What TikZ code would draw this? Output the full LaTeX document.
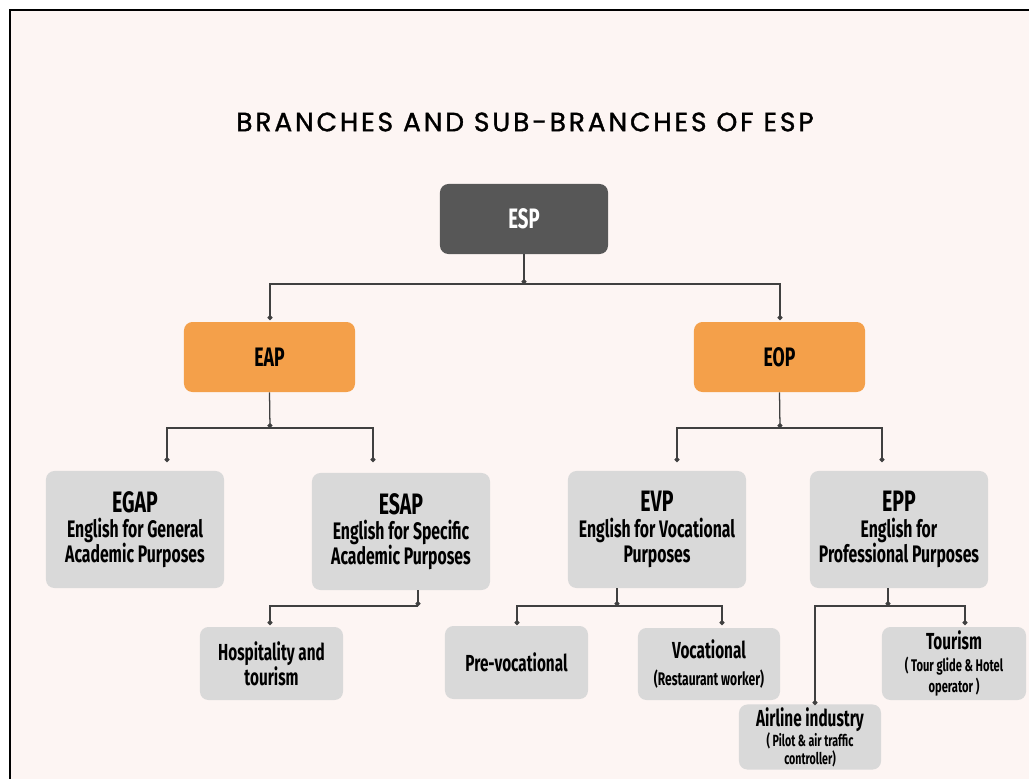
\documentclass[tikz,border=0pt]{standalone}
\usepackage{fontspec}
\usetikzlibrary{arrows.meta,positioning}
\newfontfamily\titlefont[LetterSpace=11,FakeBold=1.3]{Poppins}
\newfontfamily\boxfont[FakeStretch=0.66]{Fira Sans}
\definecolor{pagebg}{HTML}{FDF5F3}
\definecolor{espgray}{HTML}{575757}
\definecolor{eorange}{HTML}{F4A04A}
\definecolor{lgray}{HTML}{D9D9D9}
\tikzset{
  orgbox/.style={rounded corners=6pt,align=center,inner sep=2pt,font=\boxfont\bfseries\fontsize{17}{18}\selectfont},
  wire/.style={draw=black!75,line width=0.9pt,-{Circle[length=3.5pt]}}
}

\begin{document}
\begin{tikzpicture}[x=0.025cm,y=-0.025cm]
\useasboundingbox (0,0) rectangle (1029,778);
\clip (0,0) rectangle (1029,778);
\fill[white] (0,0) rectangle (1029,778);
\draw[fill=pagebg,line width=1.4pt] (10,10) rectangle (1060,800);

\node[font=\titlefont\fontsize{18.8}{20}\selectfont] (title) at (525,122) {BRANCHES AND SUB-BRANCHES OF ESP};

% top levels
\node[orgbox,fill=espgray,text=white,minimum width=4.2cm,minimum height=1.75cm,font=\boxfont\bfseries\fontsize{20}{20}\selectfont] (esp) at (524,219) {ESP};
\node[orgbox,fill=eorange,minimum width=4.275cm,minimum height=1.75cm,font=\boxfont\bfseries\fontsize{19}{20}\selectfont] (eap) at (269.5,357) {EAP};
\node[orgbox,fill=eorange,minimum width=4.275cm,minimum height=1.75cm,font=\boxfont\bfseries\fontsize{19}{20}\selectfont] (eop) at (779.5,357) {EOP};

% branches
\node[orgbox,fill=lgray,minimum width=4.45cm,minimum height=2.925cm] (egap) at (135,529.5) {{\fontsize{21}{22}\selectfont EGAP}\\English for General\\Academic Purposes};
\node[orgbox,fill=lgray,minimum width=4.45cm,minimum height=2.925cm] (esap) at (401,531.5) {{\fontsize{21}{22}\selectfont ESAP}\\English for Specific\\Academic Purposes};
\node[orgbox,fill=lgray,minimum width=4.45cm,minimum height=2.925cm] (evp) at (657,529.5) {{\fontsize{21}{22}\selectfont EVP}\\English for Vocational\\Purposes};
\node[orgbox,fill=lgray,minimum width=4.45cm,minimum height=2.925cm] (epp) at (899,529.5) {{\fontsize{21}{22}\selectfont EPP}\\English for\\Professional Purposes};

% sub-branches
\node[orgbox,fill=lgray,minimum width=3.575cm,minimum height=1.825cm,font=\boxfont\bfseries\fontsize{16.5}{18}\selectfont] (hosp) at (271.5,663.5) {Hospitality and\\tourism};
\node[orgbox,fill=lgray,minimum width=3.575cm,minimum height=1.825cm,font=\boxfont\bfseries\fontsize{16.5}{18}\selectfont] (prevoc) at (516.5,662.5) {Pre-vocational};
\node[orgbox,fill=lgray,minimum width=3.55cm,minimum height=1.8cm] (voc) at (709,664) {{\fontsize{16.5}{18}\selectfont Vocational}\\[1pt]{\fontsize{13}{14}\selectfont (Restaurant worker)}};
\node[orgbox,fill=lgray,minimum width=3.6cm,minimum height=1.825cm,font=\boxfont\bfseries\fontsize{12}{15}\selectfont] (tour) at (954,663.5) {{\fontsize{16.5}{18}\selectfont Tourism}\\( Tour glide \& Hotel\\operator )};
\node[orgbox,fill=lgray,minimum width=3.55cm,minimum height=1.525cm,font=\boxfont\bfseries\fontsize{11.5}{12.5}\selectfont] (air) at (810,737) {{\fontsize{16.5}{16}\selectfont Airline industry}\\( Pilot \& air traffic\\controller)};

% connectors
\coordinate (j0) at (524,284);
\coordinate (eapin) at (270,320);
\coordinate (eopin) at (780,320);
\coordinate (j1) at (270,428);
\coordinate (egapin) at (167,462);
\coordinate (esapin) at (373,462);
\coordinate (j2) at (780,428);
\coordinate (evpin) at (677,462);
\coordinate (eppin) at (882,462);
\coordinate (j3) at (418,606);
\coordinate (hospin) at (270,625);
\coordinate (j4) at (617,606);
\coordinate (prevocin) at (517,625);
\coordinate (vocin) at (722,625);
\coordinate (j5) at (888,606);
\coordinate (airin) at (815,705);
\coordinate (tourin) at (965,625);

\draw[wire] (esp.south) -- (j0);
\draw[wire] (j0) -| (eapin);
\draw[wire] (j0) -| (eopin);
\draw[wire] (eap.south) -- (j1);
\draw[wire] (j1) -| (egapin);
\draw[wire] (j1) -| (esapin);
\draw[wire] (eop.south) -- (j2);
\draw[wire] (j2) -| (evpin);
\draw[wire] (j2) -| (eppin);
\draw[wire] (esap.south -| j3) -- (j3);
\draw[wire] (j3) -| (hospin);
\draw[wire] (evp.south -| j4) -- (j4);
\draw[wire] (j4) -| (prevocin);
\draw[wire] (j4) -| (vocin);
\draw[wire] (epp.south -| j5) -- (j5);
\draw[wire] (j5) -| (airin);
\draw[wire] (j5) -| (tourin);
\end{tikzpicture}
\end{document}
